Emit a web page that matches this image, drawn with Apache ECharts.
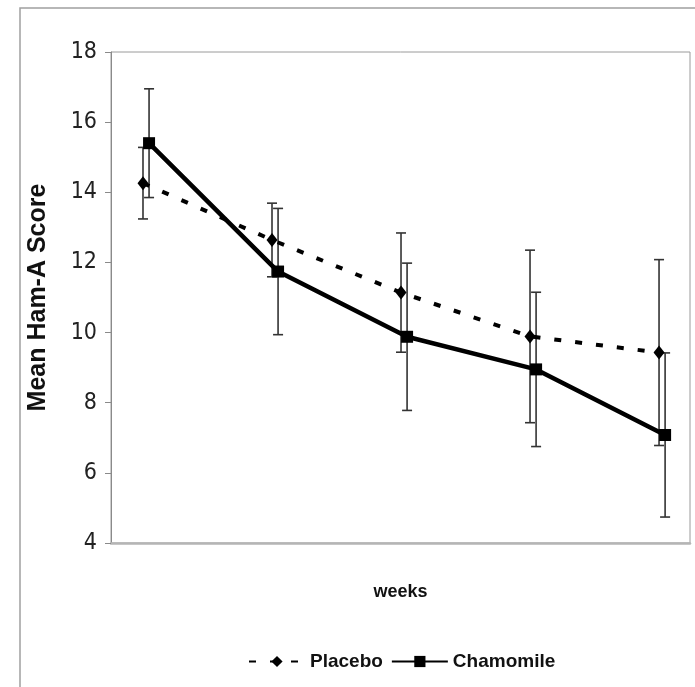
<!DOCTYPE html>
<html>
<head>
<meta charset="utf-8">
<script src="https://cdn.jsdelivr.net/npm/echarts@6/dist/echarts.min.js"></script>
<style>html,body{margin:0;padding:0;background:#fff;}#c{width:695px;height:687px;}</style>
</head>
<body>
<div id="c"></div>
<script>
// Data (visit index 0..4 along "weeks")
const visits = [0, 1, 2, 3, 4];
const yTicks = [4, 6, 8, 10, 12, 14, 16, 18];
const placeboMean = [14.26, 12.64, 11.14, 9.89, 9.43];
const placeboErr  = [1.02, 1.05, 1.70, 2.46, 2.65];
const chamomileMean = [15.40, 11.74, 9.88, 8.95, 7.08];
const chamomileErr  = [1.55, 1.80, 2.10, 2.20, 2.34];

const chart = echarts.init(document.getElementById('c'), null, {renderer: 'canvas'});

function errData(mean, err) {
  return visits.map((v, i) => [v, mean[i] - err[i], mean[i] + err[i]]);
}
function errRender(params, api) {
  const x = api.value(0);
  const lo = api.coord([x, api.value(1)]);
  const hi = api.coord([x, api.value(2)]);
  const cap = 5;
  const st = {stroke: '#333', lineWidth: 1.6};
  return {
    type: 'group',
    children: [
      {type: 'line', shape: {x1: hi[0], y1: hi[1], x2: lo[0], y2: lo[1]}, style: st},
      {type: 'line', shape: {x1: hi[0] - cap, y1: hi[1], x2: hi[0] + cap, y2: hi[1]}, style: st},
      {type: 'line', shape: {x1: lo[0] - cap, y1: lo[1], x2: lo[0] + cap, y2: lo[1]}, style: st}
    ]
  };
}

const font = "'Liberation Sans', Arial, sans-serif";
const xBase = {
  type: 'value',
  axisLabel: {show: false},
  axisTick: {show: false},
  splitLine: {show: false}
};

chart.setOption({
  animation: false,
  backgroundColor: '#fff',
  graphic: [
    {type: 'polyline', shape: {points: [[20, 700], [20, 8], [700, 8]]},
     style: {stroke: '#a0a0a0', lineWidth: 1.5, fill: null}, silent: true}
  ],
  grid: {left: 111, top: 52, right: 5, bottom: 144, show: true, borderColor: '#9a9a9a', borderWidth: 1},
  legend: {
    top: 647,
    left: 243,
    itemWidth: 56,
    itemHeight: 14,
    itemGap: 8,
    textStyle: {fontFamily: font, fontWeight: 'bold', fontSize: 19, color: '#111'},
    data: ['Placebo', 'Chamomile']
  },
  xAxis: [
    Object.assign({}, xBase, {
      min: -0.248, max: 4.24,
      name: 'weeks', nameLocation: 'middle', nameGap: 40,
      nameTextStyle: {fontFamily: font, fontWeight: 'bold', fontSize: 18, color: '#111'},
      axisLine: {show: true, onZero: false, lineStyle: {color: '#b5b5b5', width: 2.5}}
    }),
    Object.assign({}, xBase, {
      min: -0.295, max: 4.193, position: 'bottom', show: false,
      axisLine: {show: false, onZero: false}
    })
  ],
  yAxis: {
    type: 'value', min: 4, max: 18, interval: 2,
    name: 'Mean Ham-A Score', nameLocation: 'middle', nameGap: 60, nameRotate: 90,
    nameTextStyle: {fontFamily: font, fontWeight: 'bold', fontSize: 25, color: '#111'},
    axisLine: {show: true, onZero: false, lineStyle: {color: '#8a8a8a', width: 1}},
    axisTick: {show: true, inside: false, length: 6, lineStyle: {color: '#8a8a8a'}},
    axisLabel: {
      fontFamily: "'Liberation Sans Narrow', 'DejaVu Sans Condensed', 'Liberation Sans', Arial, sans-serif",
      fontSize: 23, color: '#222', margin: 14,
      formatter: v => yTicks.includes(v) ? String(v) : ''
    },
    splitLine: {show: false}
  },
  series: [
    {
      name: 'Placebo', type: 'line', xAxisIndex: 0,
      data: visits.map((v, i) => [v, placeboMean[i]]),
      symbol: 'diamond', symbolSize: [11, 14], showSymbol: true,
      itemStyle: {color: '#000'},
      lineStyle: {color: '#000', width: 4, type: [7, 14]},
      z: 3
    },
    {
      name: 'Chamomile', type: 'line', xAxisIndex: 1,
      data: visits.map((v, i) => [v, chamomileMean[i]]),
      symbol: 'rect', symbolSize: 12, showSymbol: true,
      itemStyle: {color: '#000'},
      lineStyle: {color: '#000', width: 4.5},
      z: 3
    },
    {
      name: 'PlaceboErr', type: 'custom', xAxisIndex: 0,
      data: errData(placeboMean, placeboErr),
      renderItem: errRender, encode: {x: 0, y: [1, 2]}, z: 2
    },
    {
      name: 'ChamomileErr', type: 'custom', xAxisIndex: 1,
      data: errData(chamomileMean, chamomileErr),
      renderItem: errRender, encode: {x: 0, y: [1, 2]}, z: 2
    }
  ]
});
</script>
</body>
</html>
